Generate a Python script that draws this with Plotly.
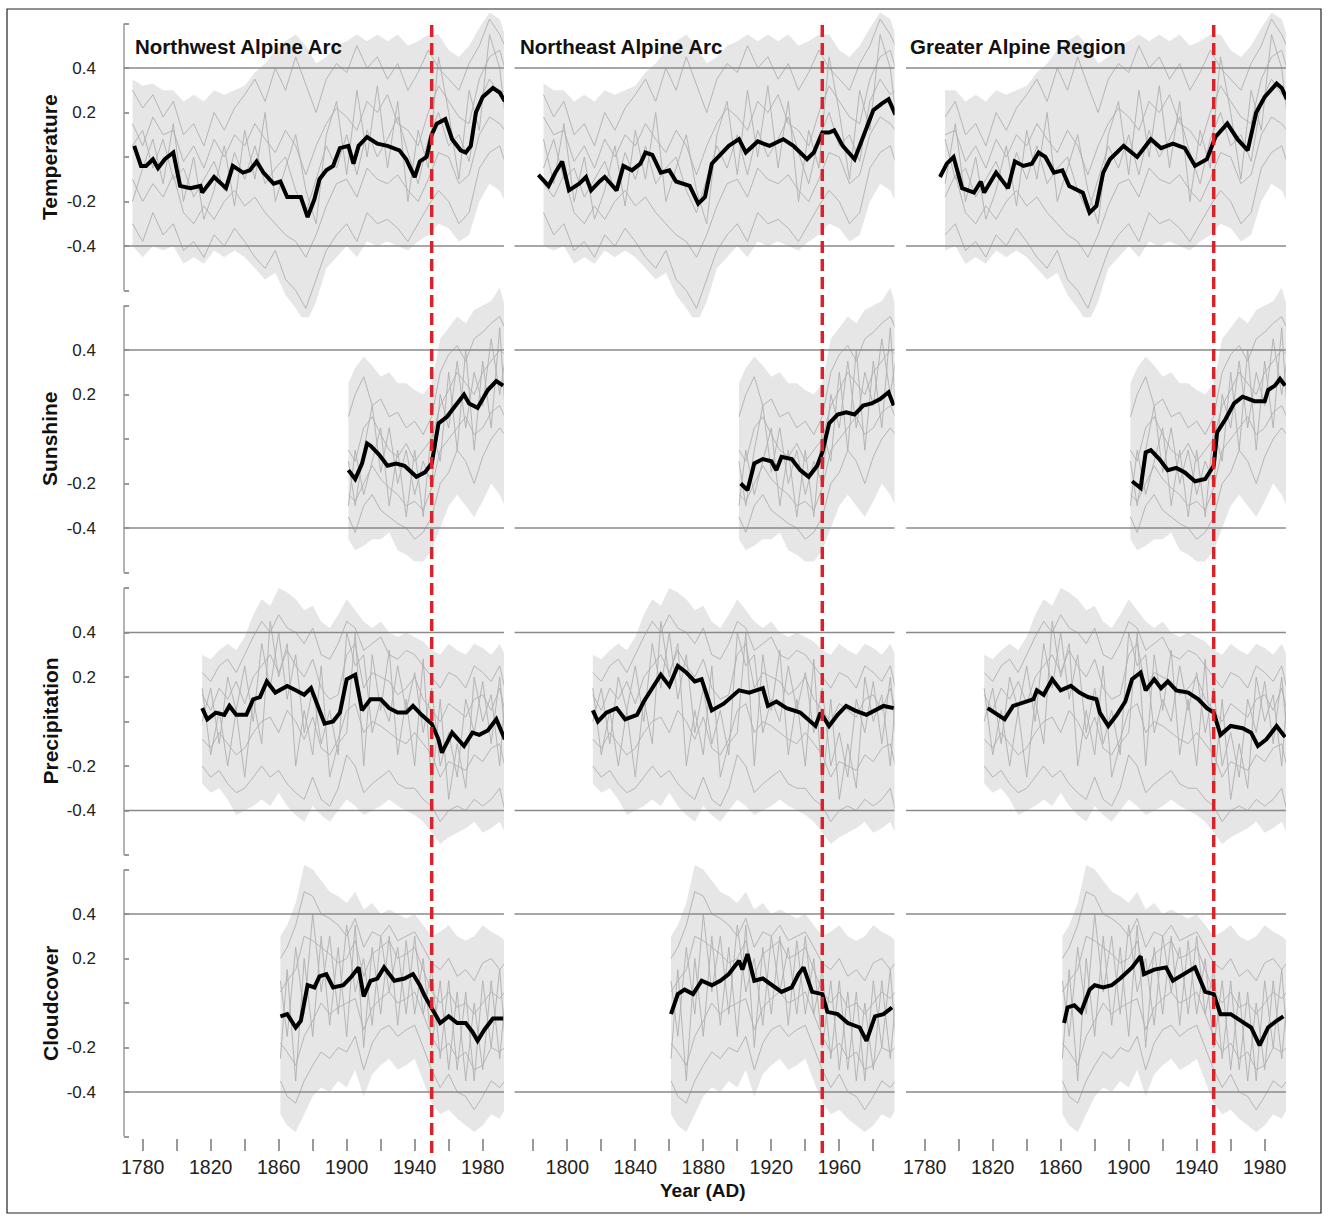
import plotly.graph_objects as go

W, H = 1328, 1220
FONT = "Liberation Sans, Arial, Helvetica, sans-serif"

regions = ["Northwest Alpine Arc", "Northeast Alpine Arc", "Greater Alpine Region"]
variables = ["Temperature", "Sunshine", "Precipitation", "Cloudcover"]

tick_years = [1780, 1800, 1820, 1840, 1860, 1880, 1900, 1920, 1940, 1960, 1980]
labels_outer = ["1780", "", "1820", "", "1860", "", "1900", "", "1940", "", "1980"]
labels_middle = ["", "1800", "", "1840", "", "1880", "", "1920", "", "1960", ""]
y_tickvals = [-0.6, -0.4, -0.2, 0.0, 0.2, 0.4, 0.6]
y_ticktext = ["", "-0.4", "-0.2", "", "0.2", "0.4", ""]
break_year = 1950

# ---------------- regional means (black lines) ----------------
nw_temp_years = [1775,1779,1782,1786,1789,1793,1798,1802,1808,1814,1815,1822,1829,1833,1839,1843,1847,1851,1857,1861,1865,1873,1877,1881,1884,1888,1892,1896,1901,1904,1907,1912,1918,1924,1931,1935,1940,1943,1947,1950,1953,1958,1962,1967,1970,1973,1976,1980,1986,1990,1993]
nw_temp_vals = [0.05,-0.04,-0.04,-0.01,-0.05,-0.01,0.02,-0.13,-0.14,-0.13,-0.16,-0.09,-0.14,-0.04,-0.07,-0.06,-0.02,-0.07,-0.12,-0.11,-0.18,-0.18,-0.27,-0.19,-0.10,-0.06,-0.04,0.04,0.05,-0.03,0.05,0.09,0.06,0.05,0.03,-0.01,-0.09,-0.02,0.0,0.10,0.15,0.17,0.08,0.03,0.02,0.05,0.20,0.27,0.31,0.29,0.25]
ne_temp_years = [1783,1789,1793,1797,1801,1807,1811,1814,1819,1822,1829,1833,1838,1843,1846,1850,1855,1860,1864,1872,1877,1881,1885,1889,1895,1901,1905,1912,1919,1927,1933,1941,1945,1950,1954,1957,1962,1969,1974,1980,1985,1989,1993]
ne_temp_vals = [-0.08,-0.13,-0.07,-0.02,-0.15,-0.12,-0.09,-0.15,-0.11,-0.09,-0.15,-0.04,-0.06,-0.03,0.02,0.01,-0.07,-0.06,-0.11,-0.13,-0.21,-0.18,-0.03,0.0,0.05,0.08,0.02,0.07,0.05,0.08,0.05,-0.01,0.02,0.11,0.11,0.12,0.05,-0.01,0.09,0.21,0.24,0.26,0.19]
gar_temp_years = [1789,1793,1797,1802,1809,1813,1815,1822,1829,1833,1838,1843,1847,1851,1856,1861,1865,1873,1877,1881,1885,1889,1897,1905,1913,1919,1926,1933,1939,1946,1951,1958,1964,1970,1975,1980,1987,1990,1993]
gar_temp_vals = [-0.09,-0.03,0.0,-0.14,-0.16,-0.11,-0.16,-0.07,-0.14,-0.02,-0.04,-0.03,0.02,0.0,-0.07,-0.06,-0.13,-0.16,-0.25,-0.22,-0.07,-0.01,0.05,0.0,0.08,0.04,0.06,0.04,-0.04,-0.01,0.09,0.15,0.08,0.03,0.20,0.27,0.33,0.31,0.26]

nw_sun_years = [1901,1905,1909,1912,1914,1919,1924,1929,1934,1938,1941,1946,1950,1954,1959,1962,1966,1969,1972,1977,1980,1983,1988,1992]
nw_sun_vals = [-0.14,-0.18,-0.11,-0.02,-0.03,-0.07,-0.12,-0.11,-0.12,-0.15,-0.17,-0.15,-0.11,0.07,0.10,0.13,0.17,0.20,0.16,0.14,0.18,0.22,0.26,0.24]
ne_sun_years = [1902,1906,1910,1915,1920,1923,1926,1932,1937,1942,1947,1950,1954,1959,1964,1969,1974,1979,1984,1989,1992]
ne_sun_vals = [-0.20,-0.23,-0.11,-0.09,-0.10,-0.14,-0.08,-0.09,-0.14,-0.17,-0.12,-0.06,0.07,0.11,0.12,0.11,0.15,0.16,0.18,0.21,0.15]
gar_sun_years = [1902,1907,1910,1913,1918,1923,1928,1933,1939,1945,1950,1952,1957,1962,1967,1974,1980,1982,1986,1989,1992]
gar_sun_vals = [-0.19,-0.22,-0.06,-0.05,-0.09,-0.14,-0.13,-0.15,-0.19,-0.18,-0.12,0.03,0.09,0.16,0.19,0.17,0.17,0.22,0.24,0.27,0.24]

nw_prec_years = [1815,1818,1823,1828,1831,1835,1841,1845,1849,1853,1858,1865,1870,1875,1879,1887,1892,1896,1900,1905,1909,1914,1920,1925,1930,1935,1939,1944,1950,1954,1956,1962,1969,1974,1978,1983,1988,1993]
nw_prec_vals = [0.06,0.01,0.04,0.03,0.07,0.03,0.03,0.10,0.11,0.18,0.13,0.16,0.14,0.12,0.15,-0.01,0.0,0.04,0.19,0.21,0.05,0.10,0.10,0.06,0.04,0.04,0.07,0.03,-0.01,-0.08,-0.14,-0.05,-0.11,-0.05,-0.06,-0.04,0.01,-0.08]
ne_prec_years = [1815,1818,1823,1829,1834,1841,1845,1852,1855,1860,1865,1870,1875,1879,1885,1892,1901,1907,1915,1918,1923,1929,1937,1946,1949,1954,1959,1964,1969,1976,1981,1986,1992]
ne_prec_vals = [0.05,0.0,0.04,0.06,0.01,0.03,0.09,0.18,0.21,0.16,0.25,0.22,0.18,0.19,0.05,0.08,0.14,0.13,0.15,0.07,0.09,0.06,0.04,-0.02,0.04,-0.02,0.03,0.07,0.05,0.03,0.05,0.07,0.06]
gar_prec_years = [1817,1821,1827,1832,1839,1844,1846,1850,1855,1860,1866,1871,1876,1881,1883,1888,1893,1898,1902,1907,1910,1915,1919,1923,1928,1935,1941,1946,1950,1954,1960,1967,1972,1976,1981,1987,1992]
gar_prec_vals = [0.06,0.04,0.01,0.07,0.09,0.10,0.14,0.12,0.19,0.14,0.16,0.13,0.11,0.10,0.04,-0.02,0.03,0.09,0.19,0.22,0.14,0.19,0.15,0.18,0.14,0.13,0.10,0.06,0.04,-0.06,-0.02,-0.03,-0.05,-0.11,-0.08,-0.02,-0.07]

nw_cloud_years = [1861,1865,1870,1873,1877,1881,1884,1888,1892,1898,1903,1907,1910,1914,1918,1922,1928,1934,1939,1943,1946,1950,1955,1960,1965,1970,1974,1977,1981,1986,1992]
nw_cloud_vals = [-0.06,-0.05,-0.11,-0.08,0.08,0.07,0.12,0.13,0.07,0.08,0.12,0.16,0.03,0.10,0.11,0.16,0.10,0.11,0.13,0.08,0.03,-0.02,-0.09,-0.06,-0.09,-0.09,-0.13,-0.17,-0.12,-0.07,-0.07]
ne_cloud_years = [1861,1865,1869,1874,1879,1885,1890,1895,1901,1903,1906,1910,1915,1921,1926,1932,1936,1939,1944,1950,1953,1959,1965,1972,1976,1981,1986,1991]
ne_cloud_vals = [-0.05,0.04,0.06,0.04,0.10,0.08,0.10,0.13,0.19,0.15,0.22,0.10,0.11,0.08,0.05,0.07,0.13,0.16,0.05,0.04,-0.04,-0.05,-0.09,-0.11,-0.17,-0.06,-0.05,-0.02]
gar_cloud_years = [1862,1864,1868,1872,1877,1880,1885,1890,1895,1902,1907,1909,1915,1922,1926,1933,1939,1945,1950,1954,1960,1966,1972,1977,1982,1987,1991]
gar_cloud_vals = [-0.09,-0.02,-0.01,-0.04,0.06,0.08,0.07,0.08,0.11,0.16,0.21,0.13,0.15,0.16,0.10,0.13,0.16,0.05,0.04,-0.05,-0.05,-0.08,-0.11,-0.19,-0.11,-0.08,-0.06]

# ---------------- ensemble members (grey lines), one set per variable ----------------
temp_grey_years = [1774,1780,1786,1792,1798,1804,1810,1816,1822,1828,1834,1840,1846,1852,1858,1864,1870,1876,1882,1888,1894,1900,1906,1912,1918,1924,1930,1936,1942,1948,1954,1960,1966,1972,1978,1984,1990,1993]
temp_upper = [0.35,0.32,0.33,0.30,0.30,0.25,0.28,0.25,0.30,0.28,0.30,0.32,0.38,0.42,0.48,0.52,0.55,0.50,0.42,0.45,0.50,0.52,0.55,0.52,0.55,0.52,0.55,0.50,0.52,0.55,0.55,0.48,0.45,0.50,0.58,0.65,0.62,0.55]
temp_lower = [-0.40,-0.45,-0.40,-0.42,-0.40,-0.48,-0.45,-0.48,-0.42,-0.45,-0.42,-0.45,-0.50,-0.55,-0.52,-0.62,-0.68,-0.75,-0.65,-0.50,-0.45,-0.40,-0.45,-0.38,-0.40,-0.38,-0.40,-0.42,-0.38,-0.35,-0.30,-0.32,-0.38,-0.35,-0.20,-0.12,-0.15,-0.20]
temp_m1 = [0.30,0.22,0.28,0.18,0.25,0.10,0.15,0.05,0.20,0.12,0.22,0.28,0.35,0.25,0.40,0.30,0.45,0.32,0.20,0.35,0.42,0.38,0.50,0.40,0.45,0.35,0.42,0.30,0.38,0.48,0.40,0.35,0.30,0.42,0.50,0.62,0.55,0.50]
temp_m2 = [-0.30,-0.38,-0.25,-0.35,-0.30,-0.42,-0.38,-0.45,-0.35,-0.40,-0.32,-0.38,-0.45,-0.50,-0.42,-0.55,-0.60,-0.68,-0.55,-0.42,-0.35,-0.30,-0.38,-0.25,-0.30,-0.28,-0.32,-0.38,-0.30,-0.22,-0.15,-0.20,-0.30,-0.25,-0.05,0.02,0.05,-0.02]
temp_m3 = [0.15,0.05,0.18,0.10,0.12,-0.02,0.05,-0.05,0.08,0.00,0.10,0.05,0.15,0.08,0.02,0.12,0.05,-0.08,0.05,0.15,0.22,0.18,0.12,0.25,0.20,0.28,0.15,0.12,0.05,0.20,0.32,0.25,0.18,0.15,0.35,0.45,0.48,0.40]
temp_m4 = [-0.10,-0.20,-0.12,-0.18,-0.08,-0.25,-0.30,-0.22,-0.28,-0.20,-0.15,-0.22,-0.18,-0.25,-0.30,-0.35,-0.38,-0.45,-0.35,-0.22,-0.12,-0.10,-0.18,-0.05,-0.10,-0.12,-0.08,-0.15,-0.20,-0.10,0.02,0.00,-0.12,-0.08,0.10,0.18,0.15,0.12]
temp_m5 = [0.05,0.12,-0.05,0.08,-0.10,-0.05,-0.18,-0.10,-0.02,-0.15,0.02,-0.10,0.05,-0.12,-0.05,0.00,-0.15,-0.25,-0.10,0.05,-0.05,0.10,-0.08,0.12,0.00,0.08,0.18,0.02,-0.12,0.08,0.20,0.05,0.10,-0.02,0.25,0.35,0.28,0.30]
temp_m6 = [-0.20,-0.05,0.08,-0.12,0.15,-0.20,0.00,-0.28,-0.15,0.05,-0.22,0.12,-0.10,0.20,-0.20,-0.05,0.10,-0.15,-0.30,0.10,0.25,-0.08,0.30,0.00,0.32,-0.05,0.25,-0.20,0.12,-0.05,0.45,0.20,-0.10,0.30,0.12,0.55,0.40,0.20]

sun_grey_years = [1901,1905,1910,1915,1920,1925,1930,1935,1940,1945,1950,1955,1960,1965,1970,1975,1980,1985,1990,1993]
sun_upper = [0.25,0.32,0.37,0.33,0.28,0.30,0.25,0.25,0.22,0.20,0.25,0.45,0.50,0.55,0.52,0.58,0.60,0.62,0.68,0.60]
sun_lower = [-0.45,-0.50,-0.48,-0.45,-0.45,-0.42,-0.50,-0.52,-0.55,-0.55,-0.50,-0.40,-0.30,-0.25,-0.30,-0.35,-0.28,-0.20,-0.25,-0.30]
sun_m1 = [0.10,0.20,0.28,0.15,0.18,0.10,0.12,0.05,0.08,0.02,0.10,0.30,0.38,0.42,0.35,0.45,0.48,0.52,0.55,0.50]
sun_m2 = [-0.35,-0.42,-0.30,-0.25,-0.32,-0.35,-0.38,-0.40,-0.45,-0.42,-0.35,-0.20,-0.15,-0.05,-0.10,-0.20,-0.08,0.00,0.05,0.02]
sun_m3 = [-0.05,-0.10,0.05,0.10,0.02,-0.05,-0.08,-0.02,-0.10,-0.05,0.00,0.15,0.22,0.30,0.25,0.20,0.30,0.35,0.40,0.38]
sun_m4 = [-0.25,-0.28,-0.20,-0.12,-0.18,-0.22,-0.25,-0.30,-0.28,-0.32,-0.22,-0.05,0.00,0.05,0.10,0.02,0.05,0.12,0.15,0.10]
sun_m5 = [-0.10,-0.30,-0.05,0.15,-0.15,0.05,-0.20,-0.05,-0.25,-0.10,-0.20,0.20,0.05,0.35,0.05,0.30,0.15,0.45,0.20,0.35]
sun_m6 = [-0.30,-0.05,-0.25,-0.10,0.05,-0.30,-0.05,-0.35,-0.05,-0.35,0.05,-0.10,0.30,-0.05,0.40,-0.05,0.35,0.05,0.50,0.15]

prec_grey_years = [1815,1820,1825,1830,1835,1840,1845,1850,1855,1860,1865,1870,1875,1880,1885,1890,1895,1900,1905,1910,1915,1920,1925,1930,1935,1940,1945,1950,1955,1960,1965,1970,1975,1980,1985,1990,1993]
prec_upper = [0.30,0.28,0.32,0.35,0.32,0.38,0.48,0.55,0.52,0.60,0.58,0.55,0.50,0.52,0.45,0.42,0.48,0.55,0.50,0.45,0.42,0.45,0.40,0.38,0.40,0.38,0.36,0.32,0.30,0.35,0.32,0.30,0.35,0.33,0.30,0.35,0.30]
prec_lower = [-0.28,-0.32,-0.30,-0.35,-0.42,-0.40,-0.38,-0.35,-0.38,-0.32,-0.38,-0.42,-0.45,-0.38,-0.42,-0.45,-0.40,-0.35,-0.38,-0.42,-0.40,-0.38,-0.35,-0.38,-0.40,-0.42,-0.45,-0.50,-0.55,-0.52,-0.50,-0.48,-0.45,-0.50,-0.48,-0.45,-0.50]
prec_m1 = [0.22,0.18,0.25,0.28,0.22,0.30,0.38,0.45,0.40,0.48,0.42,0.40,0.35,0.42,0.30,0.28,0.35,0.45,0.42,0.32,0.35,0.38,0.30,0.28,0.32,0.30,0.25,0.20,0.15,0.22,0.20,0.15,0.25,0.22,0.18,0.25,0.15]
prec_m2 = [-0.20,-0.25,-0.22,-0.28,-0.32,-0.30,-0.25,-0.20,-0.25,-0.22,-0.28,-0.32,-0.35,-0.25,-0.35,-0.38,-0.30,-0.15,-0.20,-0.32,-0.28,-0.25,-0.22,-0.28,-0.30,-0.30,-0.35,-0.38,-0.45,-0.40,-0.38,-0.40,-0.35,-0.38,-0.35,-0.30,-0.40]
prec_m3 = [0.12,0.05,0.15,0.10,0.18,0.08,0.20,0.25,0.30,0.22,0.32,0.25,0.20,0.28,0.15,0.10,0.12,0.30,0.35,0.15,0.22,0.20,0.18,0.12,0.15,0.20,0.10,0.05,0.00,0.08,0.05,0.02,0.10,0.12,0.05,0.15,0.05]
prec_m4 = [-0.08,-0.12,-0.05,-0.10,-0.15,-0.12,-0.05,0.00,0.02,-0.05,0.05,0.00,-0.08,0.02,-0.12,-0.15,-0.08,0.05,0.08,-0.05,0.00,-0.02,-0.05,-0.08,-0.10,-0.05,-0.10,-0.15,-0.25,-0.18,-0.20,-0.22,-0.15,-0.18,-0.12,-0.10,-0.20]
prec_m5 = [0.00,0.15,-0.10,0.20,0.05,0.25,0.00,0.35,0.15,0.40,0.10,0.30,-0.05,0.15,-0.10,0.05,-0.15,0.40,0.25,0.30,-0.05,0.10,0.00,0.25,0.05,0.22,-0.05,0.15,-0.20,-0.05,-0.25,0.10,-0.05,0.18,-0.10,0.20,-0.05]
prec_m6 = [0.15,-0.15,0.05,-0.20,0.05,-0.25,0.10,-0.10,0.45,0.20,0.35,-0.20,0.05,-0.15,0.25,-0.25,-0.10,-0.05,0.40,-0.20,0.30,0.05,0.32,-0.15,0.10,-0.20,0.28,-0.30,0.10,-0.35,-0.10,-0.30,0.20,0.00,0.12,-0.20,0.10]

cloud_grey_years = [1861,1865,1870,1875,1880,1885,1890,1895,1900,1905,1910,1915,1920,1925,1930,1935,1940,1945,1950,1955,1960,1965,1970,1975,1980,1985,1990,1993]
cloud_upper = [0.30,0.35,0.45,0.62,0.60,0.55,0.50,0.48,0.45,0.50,0.42,0.45,0.40,0.42,0.40,0.38,0.40,0.35,0.30,0.32,0.35,0.30,0.28,0.30,0.35,0.32,0.30,0.28]
cloud_lower = [-0.50,-0.55,-0.58,-0.50,-0.42,-0.38,-0.40,-0.35,-0.38,-0.30,-0.42,-0.32,-0.28,-0.25,-0.30,-0.28,-0.25,-0.35,-0.45,-0.50,-0.48,-0.52,-0.55,-0.58,-0.55,-0.50,-0.52,-0.48]
cloud_m1 = [0.20,0.25,0.35,0.50,0.48,0.40,0.38,0.35,0.30,0.38,0.25,0.32,0.30,0.35,0.28,0.30,0.32,0.25,0.18,0.15,0.20,0.12,0.15,0.10,0.18,0.20,0.15,0.18]
cloud_m2 = [-0.35,-0.42,-0.45,-0.35,-0.28,-0.22,-0.25,-0.20,-0.22,-0.15,-0.30,-0.18,-0.12,-0.10,-0.15,-0.12,-0.10,-0.20,-0.30,-0.38,-0.32,-0.40,-0.42,-0.48,-0.42,-0.35,-0.38,-0.35]
cloud_m3 = [0.05,0.10,0.15,0.30,0.28,0.25,0.22,0.18,0.20,0.28,0.12,0.22,0.25,0.28,0.20,0.22,0.25,0.15,0.05,0.00,0.05,-0.02,0.00,-0.05,0.00,0.05,0.02,0.05]
cloud_m4 = [-0.18,-0.22,-0.28,-0.15,-0.08,0.00,-0.05,-0.02,0.00,0.02,-0.12,-0.02,0.02,0.05,0.00,0.02,0.05,-0.05,-0.15,-0.22,-0.18,-0.25,-0.22,-0.30,-0.28,-0.20,-0.22,-0.20]
cloud_m5 = [0.10,-0.15,0.25,-0.05,0.40,0.05,0.30,-0.05,0.35,0.05,0.20,-0.10,0.30,0.05,0.25,-0.05,0.30,-0.05,0.15,-0.25,0.10,-0.30,0.05,-0.35,0.10,-0.20,0.15,-0.15]
cloud_m6 = [-0.25,0.15,-0.35,0.20,-0.15,0.30,-0.10,0.25,-0.15,0.35,-0.20,0.25,-0.05,0.30,-0.10,0.28,-0.05,0.20,-0.20,0.10,-0.30,0.05,-0.35,0.00,-0.30,0.10,-0.25,0.00]

means = [
    [(nw_temp_years, nw_temp_vals), (ne_temp_years, ne_temp_vals), (gar_temp_years, gar_temp_vals)],
    [(nw_sun_years, nw_sun_vals), (ne_sun_years, ne_sun_vals), (gar_sun_years, gar_sun_vals)],
    [(nw_prec_years, nw_prec_vals), (ne_prec_years, ne_prec_vals), (gar_prec_years, gar_prec_vals)],
    [(nw_cloud_years, nw_cloud_vals), (ne_cloud_years, ne_cloud_vals), (gar_cloud_years, gar_cloud_vals)],
]
greys = [
    (temp_grey_years, temp_upper, temp_lower, [temp_m1, temp_m2, temp_m3, temp_m4, temp_m5, temp_m6]),
    (sun_grey_years, sun_upper, sun_lower, [sun_m1, sun_m2, sun_m3, sun_m4, sun_m5, sun_m6]),
    (prec_grey_years, prec_upper, prec_lower, [prec_m1, prec_m2, prec_m3, prec_m4, prec_m5, prec_m6]),
    (cloud_grey_years, cloud_upper, cloud_lower, [cloud_m1, cloud_m2, cloud_m3, cloud_m4, cloud_m5, cloud_m6]),
]

# ---------------- layout geometry (pixels) ----------------
col_1780_px = [142.7, 533.3, 924.7]
px_per_year = 1.7
x_range = [1769.0, 1992.5]
row_zero_px = [157.0, 439.0, 721.5, 1003.0]
px_per_unit = 222.5
row_ranges = [[-0.72, 0.68], [-0.72, 0.72], [-0.72, 0.72], [-0.72, 0.72]]


def ax_name(k):
    return "" if k == 1 else str(k)


def px2fx(px):
    return px / W


def px2fy(py):
    return 1 - py / H


fig = go.Figure()
shapes = []
annotations = []
layout_axes = {}

for r in range(4):
    gy, gup, glo, members = greys[r]
    for c in range(3):
        k = r * 3 + c + 1
        xn, yn = "x" + ax_name(k), "y" + ax_name(k)
        myears, mvals = means[r][c]
        start = myears[0] - 2.5
        sel = [i for i, yv in enumerate(gy) if yv >= start]
        yrs = [gy[i] for i in sel]
        up = [gup[i] for i in sel]
        lo = [glo[i] for i in sel]
        fig.add_trace(go.Scatter(x=yrs + yrs[::-1], y=up + lo[::-1], fill="toself",
                                 fillcolor="rgba(195,195,195,0.42)", line=dict(width=0),
                                 mode="lines", xaxis=xn, yaxis=yn, hoverinfo="skip", showlegend=False))
        for m in members:
            fig.add_trace(go.Scatter(x=yrs, y=[m[i] for i in sel], mode="lines",
                                     line=dict(color="rgba(175,175,175,0.9)", width=1),
                                     xaxis=xn, yaxis=yn, hoverinfo="skip", showlegend=False))
        fig.add_trace(go.Scatter(x=myears, y=mvals, mode="lines",
                                 line=dict(color="black", width=4),
                                 xaxis=xn, yaxis=yn, showlegend=False))

        a = col_1780_px[c]
        xd = [px2fx(a - (1780 - x_range[0]) * px_per_year), px2fx(a + (x_range[1] - 1780) * px_per_year)]
        z = row_zero_px[r]
        yr = row_ranges[r]
        yd = [px2fy(z - yr[0] * px_per_unit), px2fy(z - yr[1] * px_per_unit)]
        layout_axes["xaxis" + ax_name(k)] = dict(domain=xd, range=x_range, visible=False,
                                                 anchor=yn, fixedrange=True, automargin=False)
        if c == 0:
            layout_axes["yaxis" + ax_name(k)] = dict(
                domain=yd, range=yr, anchor=xn, showgrid=False, zeroline=False, showline=False,
                tickvals=y_tickvals, ticktext=y_ticktext, ticks="inside", ticklen=5,
                tickwidth=1.5, tickcolor="#9a9a9a", ticklabelstandoff=27, automargin=False,
                tickfont=dict(size=17, color="#222", family=FONT))
            shapes.append(dict(type="line", xref=xn + " domain", yref=yn, x0=0, x1=0,
                               y0=-0.6, y1=0.6, line=dict(color="#9a9a9a", width=1.5)))
        else:
            layout_axes["yaxis" + ax_name(k)] = dict(domain=yd, range=yr, anchor=xn, visible=False,
                                                     automargin=False)
        for lv in (0.4, -0.4):
            shapes.append(dict(type="line", xref=xn + " domain", yref=yn, x0=0, x1=1,
                               y0=lv, y1=lv, layer="above", line=dict(color="#8a8a8a", width=1.5)))

# bottom tick axes (free, placed just under the -0.6 end of the bottom row)
for c in range(3):
    k = 13 + c
    a = col_1780_px[c]
    xd = [px2fx(a - (1780 - x_range[0]) * px_per_year), px2fx(a + (x_range[1] - 1780) * px_per_year)]
    layout_axes["xaxis%d" % k] = dict(
        domain=xd, range=x_range, anchor="free", position=px2fy(1137.5), side="bottom",
        showgrid=False, zeroline=False, showline=False, ticks="outside", ticklen=12,
        tickwidth=1.5, tickcolor="#9a9a9a", tickvals=tick_years, automargin=False,
        ticktext=labels_middle if c == 1 else labels_outer,
        tickfont=dict(size=19.5, color="#222", family=FONT))
    fig.add_trace(go.Scatter(x=[], y=[], xaxis="x%d" % k, yaxis="y%d" % (10 + c),
                             showlegend=False, hoverinfo="skip"))
    # dashed break line
    shapes.append(dict(type="line", xref="x" + ax_name(1 + c), yref="paper",
                       x0=break_year, x1=break_year, y0=px2fy(1153), y1=px2fy(20), layer="above",
                       line=dict(color="#d8232c", width=3.5, dash="12px,6px")))

# titles
title_x_px = [133, 518, 908]
for c in range(3):
    annotations.append(dict(text="<b>%s</b>" % regions[c], xref="paper", yref="paper",
                            x=px2fx(title_x_px[c]), y=px2fy(47), xanchor="left", yanchor="middle",
                            showarrow=False, font=dict(size=20.5, color="#111", family=FONT)))
for r in range(4):
    annotations.append(dict(text="<b>%s</b>" % variables[r], xref="paper", yref="paper",
                            x=px2fx(50), y=px2fy(row_zero_px[r]), textangle=-90,
                            xanchor="center", yanchor="middle", showarrow=False,
                            font=dict(size=21, color="#111", family=FONT)))
annotations.append(dict(text="<b>Year (AD)</b>", xref="paper", yref="paper", x=px2fx(703),
                        y=px2fy(1190), xanchor="center", yanchor="middle", showarrow=False,
                        font=dict(size=19, color="#111", family=FONT)))

# outer frame
shapes.append(dict(type="rect", xref="paper", yref="paper", x0=px2fx(7), x1=px2fx(1321),
                   y0=px2fy(1213), y1=px2fy(9), line=dict(color="#222", width=1.2)))

fig.update_layout(width=W, height=H, margin=dict(l=0, r=0, t=0, b=0, pad=0, autoexpand=False),
                  paper_bgcolor="white", plot_bgcolor="rgba(0,0,0,0)",
                  font=dict(family=FONT), shapes=shapes, annotations=annotations,
                  showlegend=False, **layout_axes)

fig.write_html("out.html", config={"displayModeBar": False},
               post_script="document.body.style.margin='0px';")
